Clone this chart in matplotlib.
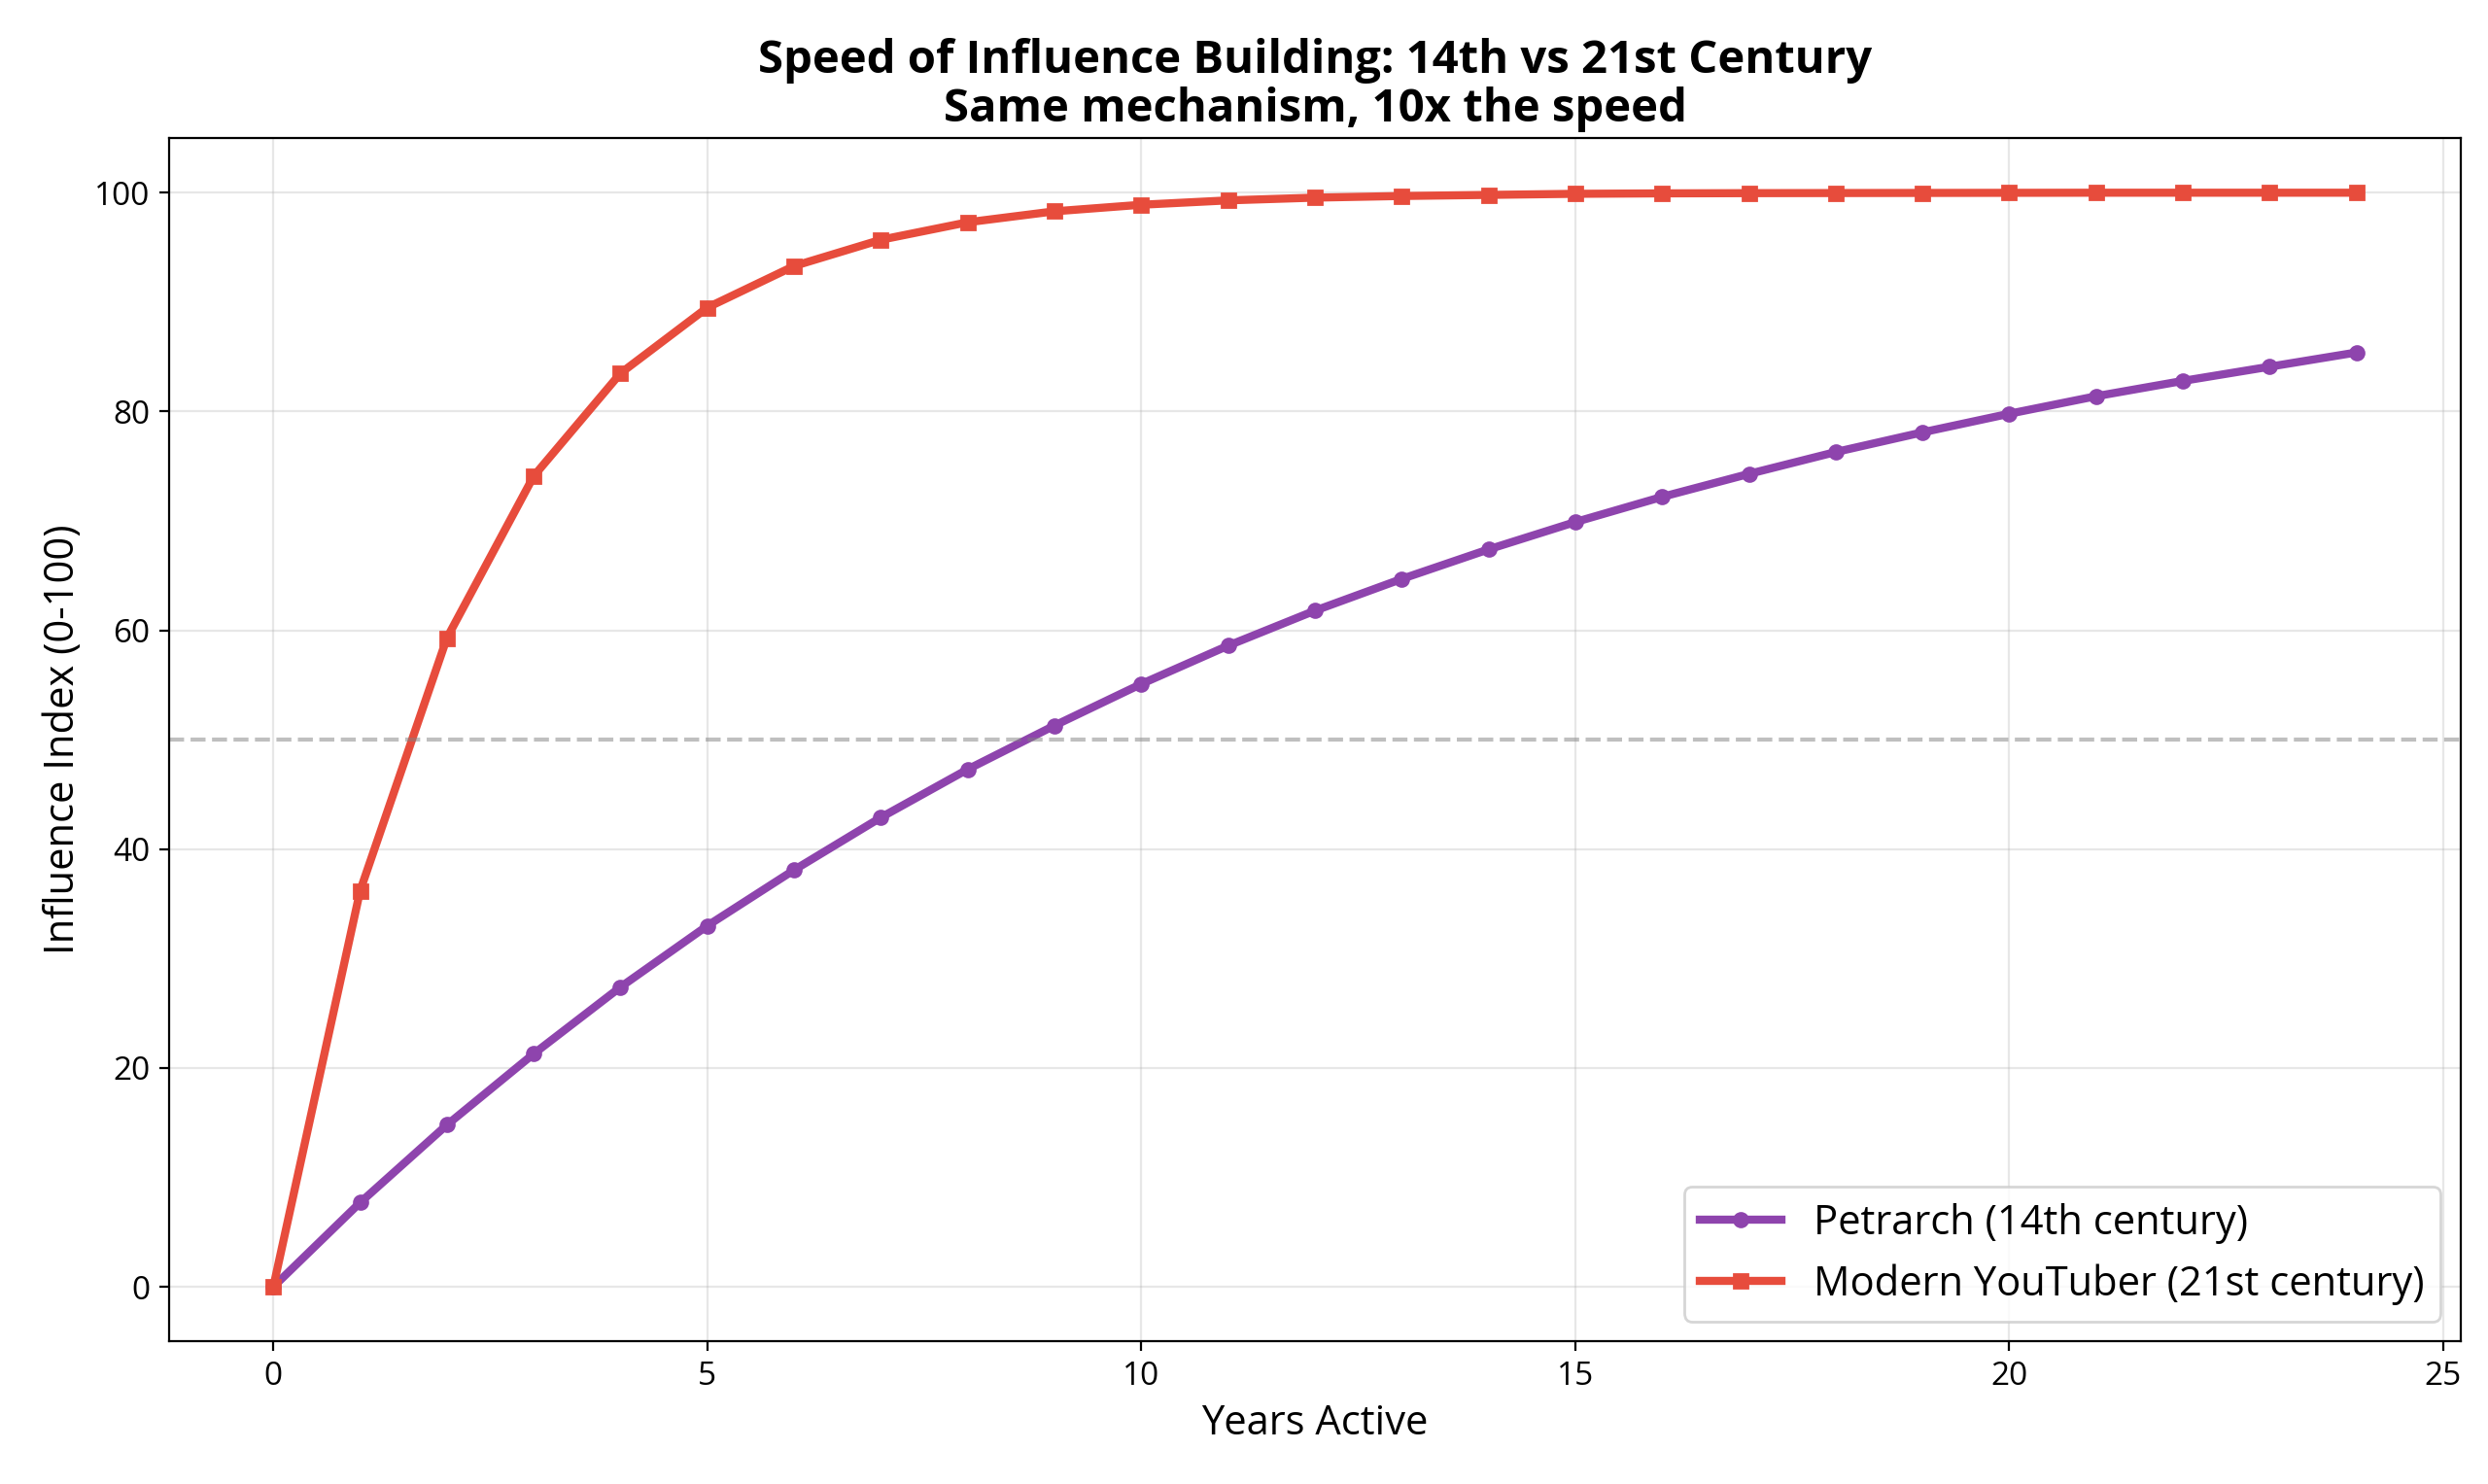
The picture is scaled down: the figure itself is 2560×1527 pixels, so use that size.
import matplotlib.pyplot as plt

plt.rcParams['font.family'] = ['Open Sans', 'DejaVu Sans']

years = list(range(25))
petrarch = [0, 7.7, 14.8, 21.3, 27.4, 33.0, 38.1, 42.9, 47.3, 51.3, 55.1, 58.6,
            61.8, 64.7, 67.4, 69.9, 72.2, 74.3, 76.3, 78.1, 79.8, 81.4, 82.8, 84.1, 85.4]
youtuber = [0, 36.2, 59.3, 74.1, 83.5, 89.5, 93.3, 95.7, 97.3, 98.3, 98.9, 99.3,
            99.55, 99.7, 99.8, 99.9, 99.94, 99.96, 99.97, 99.98, 99.99, 100, 100, 100, 100]
threshold = 50

fig, ax = plt.subplots(figsize=(12.8, 7.635), dpi=200)
fig.subplots_adjust(left=0.068, right=0.989, top=0.907, bottom=0.096)

ax.plot(years, petrarch, marker='o', markersize=5, linewidth=3, color='#8e44ad',
        label="Petrarch (14th century)")
ax.plot(years, youtuber, marker='s', markersize=5, linewidth=3, color='#e74c3c',
        label="Modern YouTuber (21st century)")
ax.axhline(threshold, color='gray', linestyle='--', alpha=0.5, linewidth=1.5)

ax.set_xlabel("Years Active", fontsize=15)
ax.set_ylabel("Influence Index (0-100)", fontsize=15)
ax.set_title("Speed of Influence Building: 14th vs 21st Century\nSame mechanism, 10x the speed",
             fontsize=17, fontweight='bold', linespacing=1.1)
ax.tick_params(labelsize=12)
ax.legend(loc='lower right', fontsize=15)
ax.grid(True, alpha=0.3)

fig.savefig("out.png", dpi=200)
